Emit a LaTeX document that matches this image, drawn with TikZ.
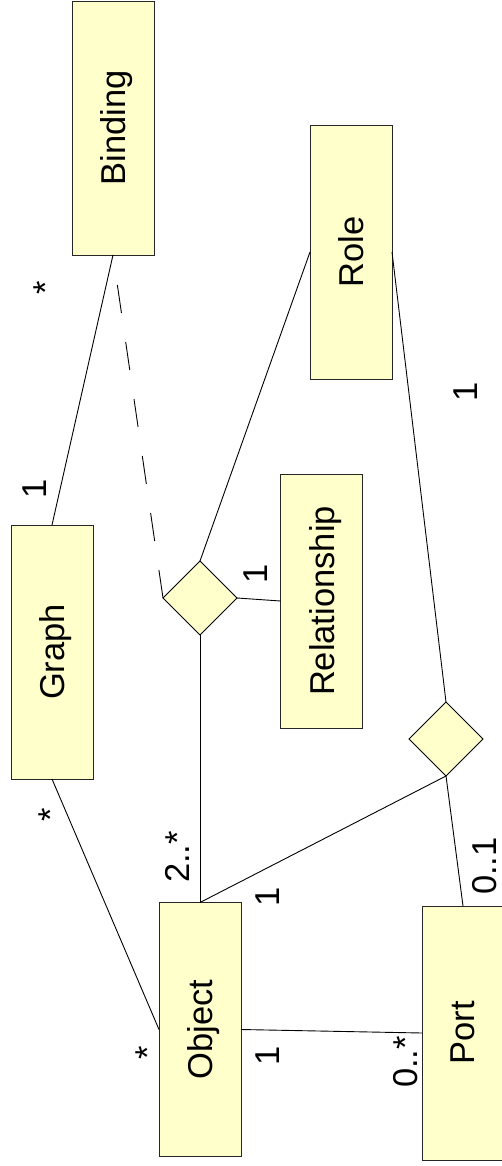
\documentclass[tikz,border=0pt]{standalone}
\usepackage{fontspec}
\setmainfont{Liberation Sans}
\usetikzlibrary{shapes.geometric}
\definecolor{boxfill}{HTML}{FFFFCC}
\newcommand\rt[1]{\rotatebox{90}{\raisebox{0pt}[\height][0pt]{#1}}}
\begin{document}
\begin{tikzpicture}[x=1pt,y=-1pt,
  cls/.style={draw=black!85, fill=boxfill, line width=0.9pt, minimum width=82pt, minimum height=254pt, inner sep=0pt, outer sep=0pt, font=\fontsize{34.5}{40}\selectfont},
  rel/.style={diamond, draw=black, fill=boxfill, line width=0.9pt, minimum width=74pt, minimum height=74pt, inner sep=0pt, outer sep=0pt},
  lab/.style={inner sep=0pt, font=\fontsize{34.5}{40}\selectfont},
  conn/.style={line width=0.9pt}]
\useasboundingbox (0,0) rectangle (501,1166);
% classes
\node[cls] (binding) at (113,128) {\rt{Binding}};
\node[cls] (role) at (351,252) {\rt{Role}};
\node[cls] (relationship) at (321.5,601) {\rt{Relationship}};
\node[cls] (graph) at (52,652) {\rt{Graph}};
\node[cls] (object) at (200,1029.5) {\rt{Object}};
\node[cls] (port) at (463,1033) {\rt{Port}};
% diamonds
\node[rel] (d1) at (200,598) {};
\node[rel] (d2) at (446,739) {};
% connectors
\draw[conn] (binding.south) -- (graph.north);
\draw[conn, dash pattern=on 28.3pt off 29.3pt] (d1.west) -- (binding.south);
\draw[conn] (role.west) -- (d1.north);
\draw[conn] (role.east) -- (d2.north);
\draw[conn] (relationship.west) -- (d1.east);
\draw[conn] (d1.south) -- (object.north);
\draw[conn] (d2.south) -- (object.north);
\draw[conn] (d2.south) -- (port.north);
\draw[conn] (graph.south) -- (object.west);
\draw[conn] (object.east) -- (port.west);
% multiplicities
\node[lab] (m1) at (45.3,288) {\rt{\vphantom{1}*}};
\node[lab] (m2) at (35,489) {\rt{1}};
\node[lab] (m3) at (50.3,815) {\rt{\vphantom{1}*}};
\node[lab] (m4) at (177,857) {\rt{2..*}};
\node[lab] (m5) at (268,897) {\rt{1}};
\node[lab] (m6) at (256,574) {\rt{1}};
\node[lab] (m7) at (466,392) {\rt{1}};
\node[lab] (m8) at (147.3,1053) {\rt{\vphantom{1}*}};
\node[lab] (m9) at (268,1056) {\rt{1}};
\node[lab] (m10) at (405,1062) {\rt{0..*}};
\node[lab] (m11) at (484,866) {\rt{0..1}};
\end{tikzpicture}
\end{document}
